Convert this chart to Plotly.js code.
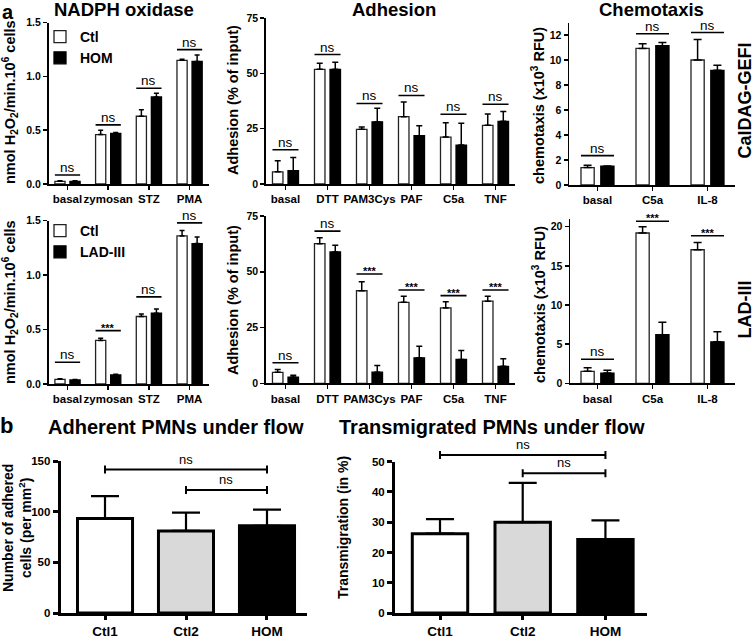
<!DOCTYPE html>
<html><head><meta charset="utf-8">
<script src="https://cdn.plot.ly/plotly-3.0.1.min.js"></script>
<style>html,body{margin:0;padding:0;background:#fff}#chart{width:756px;height:638px}</style>
</head><body><div id="chart"></div>
<script>
// ---------------- data ----------------
// Panel a, row 1 (CalDAG-GEFI)
const nadphCats = ['basal','zymosan','STZ','PMA'];
const nadphCtlA = [0.025,0.46,0.63,1.15];
const nadphCtlAErr = [0.005,0.04,0.06,0.01];
const nadphHomA = [0.025,0.47,0.81,1.14];
const nadphHomAErr = [0.005,0.01,0.035,0.06];
const nadphSigA = [0.084,0.55,0.89,1.25];
const nadphSigALab = ['ns','ns','ns','ns'];

const adhCats = ['basal','DTT','PAM3Cys','PAF','C5a','TNF'];
const adhCtlA = [5.5,51.8,24.7,30.4,21.2,26.5];
const adhCtlAErr = [5.0,2.7,1.0,6.6,6.5,5.1];
const adhHomA = [6.0,51.8,28.1,21.8,17.6,28.3];
const adhHomAErr = [6.0,3.2,6.1,4.5,9.9,4.5];
const adhSigA = [15.5,58.5,36.4,40.0,31.5,36.0];
const adhSigALab = ['ns','ns','ns','ns','ns','ns'];

const chemCats = ['basal','C5a','IL-8'];
const chemCtlA = [1.39,10.93,10.0];
const chemCtlAErr = [0.18,0.37,1.65];
const chemHomA = [1.5,11.14,9.17];
const chemHomAErr = [0.02,0.26,0.4];
const chemSigA = [2.35,12.1,12.2];
const chemSigALab = ['ns','ns','ns'];

// Panel a, row 2 (LAD-III)
const nadphCtlB = [0.043,0.40,0.62,1.36];
const nadphCtlBErr = [0.005,0.02,0.024,0.05];
const nadphLadB = [0.037,0.083,0.65,1.29];
const nadphLadBErr = [0.004,0.007,0.04,0.06];
const nadphSigB = [0.2,0.49,0.8,1.48];
const nadphSigBLab = ['ns','***','ns','ns'];

const adhCtlB = [4.9,62.6,41.5,36.3,33.8,36.8];
const adhCtlBErr = [1.3,2.6,4.0,2.7,2.8,2.2];
const adhLadB = [2.8,58.9,5.0,11.4,10.7,7.6];
const adhLadBErr = [0.8,3.0,3.0,5.2,4.0,3.4];
const adhSigB = [9.2,68.2,49,41.8,39.3,41.8];
const adhSigBLab = ['ns','ns','***','***','***','***'];

const chemCtlB = [1.53,19.2,17.06];
const chemCtlBErr = [0.47,0.8,0.94];
const chemLadB = [1.3,6.2,5.3];
const chemLadBErr = [0.36,1.6,1.3];
const chemSigB = [3.07,20.7,18.85];
const chemSigBLab = ['ns','***','***'];

// Panel b
const flowCats = ['Ctl1','Ctl2','HOM'];
const adherent = [93.3,81,86];
const adherentErr = [22,18,16];
const transmig = [26.2,30,24.3];
const transmigErr = [4.8,13,6.3];
const flowColors = ['#ffffff','#d9d9d9','#000000'];
const adherentBrackets = [['Ctl1','HOM',141.6,'ns'],['Ctl2','HOM',121.4,'ns']];
const transmigBrackets = [['Ctl1','HOM',52.2,'ns'],['Ctl2','HOM',46.2,'ns']];

// ---------------- drawing ----------------
const W = 756, H = 638;
const F = 'Liberation Sans, Arial, Helvetica, sans-serif';
const zeros = a => a.map(() => 0);
const sfx = n => (n === 1 ? '' : String(n));

const traces = [];
const shapes = [];
const ann = [];
const legendStyle = {xanchor:'left', yanchor:'top', bgcolor:'rgba(0,0,0,0)', borderwidth:0,
  traceorder:'normal', font:{family:F, size:14, color:'#000', weight:700}};
const layout = {
  width: W, height: H, autosize: false,
  margin: {l:0, r:0, t:0, b:0},
  paper_bgcolor: '#fff', plot_bgcolor: 'rgba(0,0,0,0)',
  barmode: 'overlay', showlegend: true,
  font: {family: F, color: '#000'},
  hovermode: false,
  legend: Object.assign({x: 40/W, y: 1-21/H}, legendStyle),
  legend2: Object.assign({x: 40/W, y: 1-215/H}, legendStyle),
  annotations: ann, shapes: shapes
};

const styA = {lw:1.5, xtl:4, ytl:4, xf:11.5, yf:10.5, so:0};
const styB = {lw:3, xtl:4, ytl:5, xf:13.5, yf:11.5, so:0};

function axes(n, x0, x1, yTop, yBot, xrange, yrange, dtick, fmt, sty) {
  const s = sfx(n);
  layout['xaxis'+s] = {domain:[x0/W, x1/W], anchor:'y'+s, type:'category', range:xrange,
    showline:true, linecolor:'#000', linewidth:sty.lw, ticks:'outside', ticklen:sty.xtl,
    tickwidth:sty.lw, tickcolor:'#000', showgrid:false, zeroline:false, automargin:false,
    ticklabelstandoff: sty.so, tickangle: 0,
    tickfont:{family:F, size:sty.xf, color:'#000', weight:700}, fixedrange:true};
  layout['yaxis'+s] = {domain:[1-yBot/H, 1-yTop/H], anchor:'x'+s, range:yrange, tick0:0, dtick:dtick,
    tickformat:fmt, showline:true, linecolor:'#000', linewidth:sty.lw, ticks:'outside',
    ticklen:sty.ytl, tickwidth:sty.lw, tickcolor:'#000', showgrid:false, zeroline:false,
    automargin:false, tickfont:{family:F, size:sty.yf, color:'#000', weight:700}, fixedrange:true};
}

axes(1, 48.5, 209, 22.7, 184, [-0.467, 3.477], [0, 1.5], 0.5, '.1f', styA);
axes(2, 265.7, 515.3, 18, 184, [-0.471, 5.471], [0, 75], 25, '', styA);
axes(3, 569, 735, 22.5, 185, [-0.518, 2.5], [0, 13], 2, '', styA);
axes(4, 48.5, 209, 220.7, 384, [-0.467, 3.477], [0, 1.5], 0.5, '.1f', styA);
axes(5, 265.7, 515.3, 216, 383.3, [-0.471, 5.471], [0, 75], 25, '', styA);
axes(6, 570, 735, 218.9, 383.3, [-0.5, 2.5], [0, 21], 5, '', styA);
axes(7, 60.7, 307, 461, 613, [-0.547, 2.494], [0, 150], 50, '', styB);
axes(8, 395, 646.7, 461.7, 613, [-0.544, 2.499], [0, 50], 10, '', styB);

function pair(n, cats, ctl, ctlErr, grp, grpErr, w, nameB, legendId, capW) {
  const s = sfx(n);
  const g = 0.12;
  const common = {type:'bar', x:cats, xaxis:'x'+s, yaxis:'y'+s, width:w, hoverinfo:'skip'};
  traces.push(Object.assign({}, common, {
    y: ctl, name:'Ctl', offset: -(g/2 + w),
    marker:{color:'#ffffff', line:{color:'#222', width:1.3}},
    error_y:{type:'data', symmetric:false, array:ctlErr, arrayminus:zeros(ctlErr), color:'#000', thickness:1.5, width:capW},
    showlegend: !!legendId, legend: legendId || 'legend'}));
  traces.push(Object.assign({}, common, {
    y: grp, name:nameB, offset: g/2,
    marker:{color:'#000000', line:{color:'#000', width:1.3}},
    error_y:{type:'data', symmetric:false, array:grpErr, arrayminus:zeros(grpErr), color:'#000', thickness:1.5, width:capW},
    showlegend: !!legendId, legend: legendId || 'legend'}));
}

pair(1, nadphCats, nadphCtlA, nadphCtlAErr, nadphHomA, nadphHomAErr, 0.25, 'HOM', 'legend', 2.5);
pair(2, adhCats, adhCtlA, adhCtlAErr, adhHomA, adhHomAErr, 0.25, 'HOM', null, 3);
pair(3, chemCats, chemCtlA, chemCtlAErr, chemHomA, chemHomAErr, 0.24, 'HOM', null, 4);
pair(4, nadphCats, nadphCtlB, nadphCtlBErr, nadphLadB, nadphLadBErr, 0.25, 'LAD-III', 'legend2', 2.5);
pair(5, adhCats, adhCtlB, adhCtlBErr, adhLadB, adhLadBErr, 0.25, 'LAD-III', null, 3);
pair(6, chemCats, chemCtlB, chemCtlBErr, chemLadB, chemLadBErr, 0.24, 'LAD-III', null, 4);

function flow(n, vals, errs, w) {
  const s = sfx(n);
  traces.push({type:'bar', x:flowCats, y:vals, xaxis:'x'+s, yaxis:'y'+s, width:w, hoverinfo:'skip',
    marker:{color:flowColors, line:{color:'#000', width:3}}, showlegend:false,
    error_y:{type:'data', symmetric:false, array:errs, arrayminus:zeros(errs), color:'#000', thickness:2.2, width:14}});
}
flow(7, adherent, adherentErr, 0.68);
flow(8, transmig, transmigErr, 0.67);

// significance marks, panel a
function sig(n, levels, labels, half) {
  const s = sfx(n);
  levels.forEach((lv, i) => {
    shapes.push({type:'line', xref:'x'+s, yref:'y'+s, x0:i-half, x1:i+half, y0:lv, y1:lv,
      line:{color:'#000', width:1.6}});
    const star = labels[i] !== 'ns';
    ann.push({xref:'x'+s, yref:'y'+s, x:i, y:lv, text:labels[i], showarrow:false,
      xanchor:'center', yanchor:'bottom', yshift: star ? -5 : -2,
      font:{family:F, size: star ? 11 : 13.5, color:'#000', weight: star ? 700 : 400}});
  });
}
sig(1, nadphSigA, nadphSigALab, 0.31);
sig(2, adhSigA, adhSigALab, 0.31);
sig(3, chemSigA, chemSigALab, 0.30);
sig(4, nadphSigB, nadphSigBLab, 0.31);
sig(5, adhSigB, adhSigBLab, 0.31);
sig(6, chemSigB, chemSigBLab, 0.30);

// brackets, panel b
function brackets(n, list, ymax) {
  const s = sfx(n);
  list.forEach(b => {
    const i0 = flowCats.indexOf(b[0]), i1 = flowCats.indexOf(b[1]);
    const yv = b[2] / ymax;
    const yr = 'y' + s + ' domain';
    shapes.push({type:'line', xref:'x'+s, yref:yr, x0:i0, x1:i1, y0:yv, y1:yv, line:{color:'#000', width:2}});
    [i0, i1].forEach(xx => shapes.push({type:'line', xref:'x'+s, yref:yr, x0:xx, x1:xx,
      ysizemode:'pixel', yanchor:yv, y0:-4, y1:4, line:{color:'#000', width:2}}));
    ann.push({xref:'x'+s, yref:yr, x:(i0+i1)/2, y:yv, text:b[3], showarrow:false,
      xanchor:'center', yanchor:'bottom', yshift:1, font:{family:F, size:13, color:'#000', weight:400}});
  });
}
brackets(7, adherentBrackets, 150);
brackets(8, transmigBrackets, 50);

// texts
function txt(x, y, text, size, extra) {
  ann.push(Object.assign({xref:'paper', yref:'paper', x:x/W, y:1-y/H, text:text, showarrow:false,
    xanchor:'center', yanchor:'middle', font:{family:F, size:size, color:'#000', weight:700}}, extra || {}));
}
txt(8, 12.5, 'a', 20);
txt(6, 425.5, 'b', 22);
txt(124, 9.5, 'NADPH oxidase', 18.5);
txt(394, 9.5, 'Adhesion', 18.5);
txt(651, 9.5, 'Chemotaxis', 18.5);
txt(176, 426.5, 'Adherent PMNs under flow', 20);
txt(491.5, 426.5, 'Transmigrated PMNs under flow', 20);
const rot = {textangle:-90};
txt(10, 102, 'nmol H<sub>2</sub>O<sub>2</sub>/min.10<sup>6</sup> cells', 14.5, rot);
txt(10, 302, 'nmol H<sub>2</sub>O<sub>2</sub>/min.10<sup>6</sup> cells', 14.5, rot);
txt(233, 100, 'Adhesion (% of input)', 14.5, rot);
txt(233, 300, 'Adhesion (% of input)', 14.5, rot);
txt(538, 106, 'chemotaxis (x10<sup>3</sup> RFU)', 14.5, rot);
txt(539, 305, 'chemotaxis (x10<sup>3</sup> RFU)', 14.5, rot);
txt(744.5, 101, 'CalDAG-GEFI', 18, rot);
txt(744.5, 310, 'LAD-III', 18, rot);
txt(17, 528, 'Number of adhered<br>cells (per mm<sup>2</sup>)', 14, rot);
txt(343, 528, 'Transmigration (in %)', 14, rot);

Plotly.newPlot('chart', traces, layout, {staticPlot:true, displayModeBar:false});
</script></body></html>
